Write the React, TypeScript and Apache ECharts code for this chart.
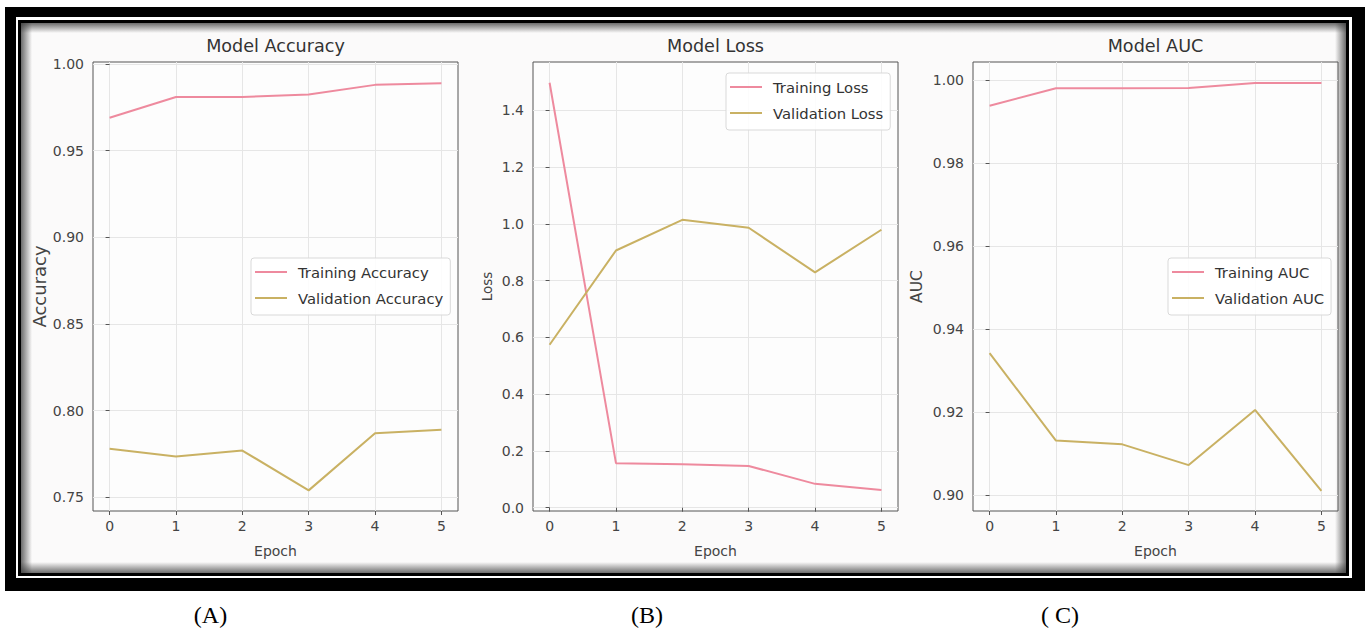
import React, { useEffect, useRef } from "react";
import * as echarts from "echarts";

const epochs = [0, 1, 2, 3, 4, 5];
const trainAcc = [0.969, 0.981, 0.981, 0.9825, 0.988, 0.989];
const valAcc = [0.778, 0.7735, 0.777, 0.754, 0.787, 0.789];
const trainLoss = [1.497, 0.157, 0.153, 0.147, 0.084, 0.062];
const valLoss = [0.574, 0.906, 1.014, 0.986, 0.829, 0.979];
const trainAuc = [0.9938, 0.998, 0.998, 0.9981, 0.9993, 0.9993];
const valAuc = [0.9342, 0.9131, 0.9122, 0.9072, 0.9205, 0.901];
const accTicks = [0.75, 0.8, 0.85, 0.9, 0.95, 1.0];
const lossTicks = [0, 0.2, 0.4, 0.6, 0.8, 1.0, 1.2, 1.4];
const aucTicks = [0.9, 0.92, 0.94, 0.96, 0.98, 1.0];
const titles = ["Model Accuracy", "Model Loss", "Model AUC"];
const yNames = ["Accuracy", "Loss", "AUC"];
const panelLabels = ["(A)", "(B)", "( C)"];

const FONT = "DejaVu Sans";
const TRAIN_COLOR = "#ee8a9e";
const VAL_COLOR = "#c9b163";

export default function App() {
  const ref = useRef<HTMLDivElement>(null);
  useEffect(() => {
    const chart = echarts.init(ref.current!, null, { renderer: "svg" });
    const panels = [
      {
        left: 93, ymin: 0.7421, ymax: 1.0012, ticks: accTicks, dec: 2, nameGap: 45, nameSize: 18,
        train: trainAcc, val: valAcc, tName: "Training Accuracy", vName: "Validation Accuracy",
        legendLeft: 251, legendTop: 258, labelX: 210.5,
      },
      {
        left: 533, ymin: -0.0116, ymax: 1.57, ticks: lossTicks, dec: 1, nameGap: 39, nameSize: 13.5,
        train: trainLoss, val: valLoss, tName: "Training Loss", vName: "Validation Loss",
        legendLeft: 726, legendTop: 73, labelX: 647,
      },
      {
        left: 973, ymin: 0.89614, ymax: 1.00434, ticks: aucTicks, dec: 2, nameGap: 48, nameSize: 15.5,
        train: trainAuc, val: valAuc, tName: "Training AUC", vName: "Validation AUC",
        legendLeft: 1168, legendTop: 258, labelX: 1060,
      },
    ];
    const W = 365;
    const H = 449;
    const TOP = 62;

    const grid = panels.map((p) => ({
      left: p.left, top: TOP, width: W, height: H,
      show: true, borderColor: "#555", borderWidth: 1,
      backgroundColor: "rgba(255,255,255,0.6)",
      containLabel: false,
    }));
    const xAxis = panels.map((p, i) => ({
      type: "value", gridIndex: i, min: -0.25, max: 5.25,
      name: "Epoch", nameLocation: "middle", nameGap: 33,
      nameTextStyle: { fontFamily: FONT, fontSize: 14, color: "#444" },
      axisLine: { show: false },
      axisTick: { show: true, customValues: epochs, length: 4, lineStyle: { color: "#555" } },
      axisLabel: { customValues: epochs, fontFamily: FONT, fontSize: 14, color: "#444", margin: 8 },
      splitLine: { show: true, lineStyle: { color: "#e6e6e6", width: 1 } },
    }));
    const yAxis = panels.map((p, i) => ({
      type: "value", gridIndex: i, min: p.ymin, max: p.ymax,
      name: yNames[i], nameLocation: "middle", nameGap: p.nameGap, nameRotate: 90,
      nameTextStyle: { fontFamily: FONT, fontSize: p.nameSize, color: "#444" },
      axisLine: { show: false },
      axisTick: { show: true, customValues: p.ticks, length: 4, lineStyle: { color: "#555" } },
      axisLabel: {
        customValues: p.ticks, fontFamily: FONT, fontSize: 14, color: "#444", margin: 9,
        formatter: (v: number) => v.toFixed(p.dec),
      },
      splitLine: { show: true, lineStyle: { color: "#e6e6e6", width: 1 } },
    }));
    const series: any[] = [];
    panels.forEach((p, i) => {
      series.push({
        type: "line", name: p.tName, xAxisIndex: i, yAxisIndex: i, symbol: "none",
        lineStyle: { color: TRAIN_COLOR, width: 2 }, itemStyle: { color: TRAIN_COLOR },
        data: epochs.map((e, k) => [e, p.train[k]]), z: 3,
      });
      series.push({
        type: "line", name: p.vName, xAxisIndex: i, yAxisIndex: i, symbol: "none",
        lineStyle: { color: VAL_COLOR, width: 2 }, itemStyle: { color: VAL_COLOR },
        data: epochs.map((e, k) => [e, p.val[k]]), z: 3,
      });
    });
    const legend = panels.map((p) => ({
      orient: "vertical", left: p.legendLeft, top: p.legendTop,
      icon: "rect", itemWidth: 32, itemHeight: 2, itemGap: 8,
      padding: [5, 7, 8, 4],
      backgroundColor: "rgba(255,255,255,0.85)", borderColor: "#d9d9d9", borderWidth: 1, borderRadius: 3,
      textStyle: { fontFamily: FONT, fontSize: 14.8, color: "#333", lineHeight: 18, padding: [0, 0, 0, 6] },
      data: [p.tName, p.vName],
      selectedMode: false,
      z: 10,
    }));

    const shadow = (x: number, y: number, w: number, h: number, vertical: boolean, toEnd: boolean) => ({
      type: "rect", z: -8, silent: true,
      shape: { x, y, width: w, height: h },
      style: {
        fill: {
          type: "linear", x: 0, y: 0, x2: vertical ? 0 : 1, y2: vertical ? 1 : 0,
          colorStops: toEnd
            ? [{ offset: 0, color: "rgba(60,60,60,0)" }, { offset: 1, color: "rgba(60,60,60,0.75)" }]
            : [{ offset: 0, color: "rgba(60,60,60,0.75)" }, { offset: 1, color: "rgba(60,60,60,0)" }],
        },
      },
    });

    const graphic: any[] = [
      { type: "rect", z: -10, silent: true, shape: { x: 5, y: 7, width: 1360, height: 584 }, style: { fill: "#000" } },
      { type: "rect", z: -9, silent: true, shape: { x: 16, y: 17, width: 1336, height: 561 }, style: { fill: "#fff" } },
      { type: "rect", z: -9, silent: true, shape: { x: 18, y: 20, width: 1331, height: 556 }, style: { fill: "#000" } },
      { type: "rect", z: -9, silent: true, shape: { x: 21, y: 23, width: 1325, height: 550 }, style: { fill: "#fbfafa" } },
      shadow(21, 23, 1325, 10, true, false),
      shadow(21, 562, 1325, 11, true, true),
      shadow(21, 23, 11, 550, false, false),
      shadow(1335, 23, 11, 550, false, true),
    ];
    panels.forEach((p, i) => {
      graphic.push({
        type: "text", z: 20, x: p.left + W / 2, y: 46,
        style: { text: titles[i], fontFamily: FONT, fontSize: 17.6, fill: "#333", align: "center", verticalAlign: "middle" },
      });
      graphic.push({
        type: "text", z: 20, x: p.labelX, y: 615,
        style: { text: panelLabels[i], fontFamily: "Liberation Serif", fontSize: 24, fill: "#000", align: "center", verticalAlign: "middle" },
      });
    });

    chart.setOption({
      animation: false,
      backgroundColor: "#fff",
      grid, xAxis, yAxis, series, legend, graphic,
    });
    return () => chart.dispose();
  }, []);
  return <div ref={ref} style={{ position: "absolute", left: 0, top: 0, width: 1366, height: 629 }} />;
}
